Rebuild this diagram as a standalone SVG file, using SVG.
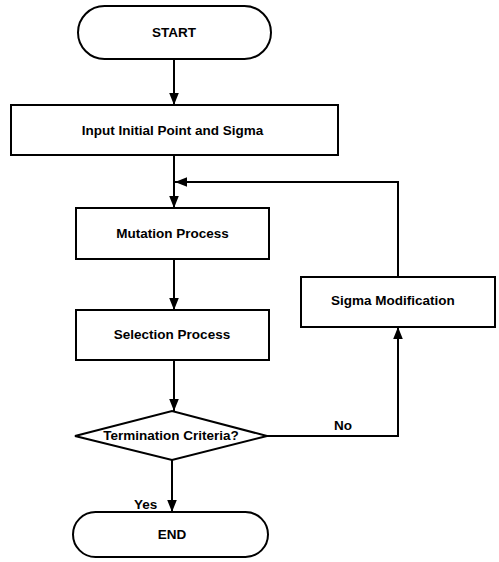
<svg xmlns="http://www.w3.org/2000/svg" width="499" height="562" viewBox="0 0 499 562">
<style>
.s{fill:#fff;stroke:#000;stroke-width:2}
.c{fill:none;stroke:#000;stroke-width:2}
text{font-family:"Liberation Sans",Arial,sans-serif;font-size:13.5px;font-weight:bold;fill:#000}
.m{text-anchor:middle}
</style>
<defs>
<marker id="a" viewBox="0 0 10 10" refX="10" refY="5" markerWidth="12" markerHeight="12" markerUnits="userSpaceOnUse" orient="auto">
<path d="M0,1 L10,5 L0,9 Z" fill="#000"/>
</marker>
</defs>
<g id="connectors">
<line class="c" x1="174" y1="59" x2="174" y2="105" marker-end="url(#a)"/>
<line class="c" x1="174" y1="155" x2="174" y2="208" marker-end="url(#a)"/>
<polyline class="c" points="398,277 398,182 175,182" marker-end="url(#a)"/>
<line class="c" x1="174" y1="259" x2="174" y2="310" marker-end="url(#a)"/>
<line class="c" x1="174" y1="360" x2="174" y2="411" marker-end="url(#a)"/>
<polyline class="c" points="267,436 398,436 398,327" marker-end="url(#a)"/>
<line class="c" x1="172" y1="460" x2="172" y2="512" marker-end="url(#a)"/>
<text x="334" y="430">No</text>
<text x="134" y="509">Yes</text>
</g>
<g id="start">
<rect class="s" x="78" y="6" width="193" height="53" rx="26.5"/>
<text class="m" x="174" y="37">START</text>
</g>
<g id="input">
<rect class="s" x="11" y="105" width="327" height="50"/>
<text class="m" x="172.5" y="135">Input Initial Point and Sigma</text>
</g>
<g id="mutation">
<rect class="s" x="76" y="208" width="193" height="51"/>
<text class="m" x="172.5" y="238">Mutation Process</text>
</g>
<g id="selection">
<rect class="s" x="76" y="310" width="193" height="50"/>
<text class="m" x="172" y="339">Selection Process</text>
</g>
<g id="sigma">
<rect class="s" x="301" y="277" width="194" height="50"/>
<text class="m" x="393" y="305">Sigma Modification</text>
</g>
<g id="decision">
<polygon class="s" points="75,436 172,411 267,436 172,460"/>
<text class="m" x="171" y="440">Termination Criteria?</text>
</g>
<g id="end">
<rect class="s" x="73" y="512" width="195" height="45" rx="22.5"/>
<text class="m" x="172" y="539">END</text>
</g>
</svg>
